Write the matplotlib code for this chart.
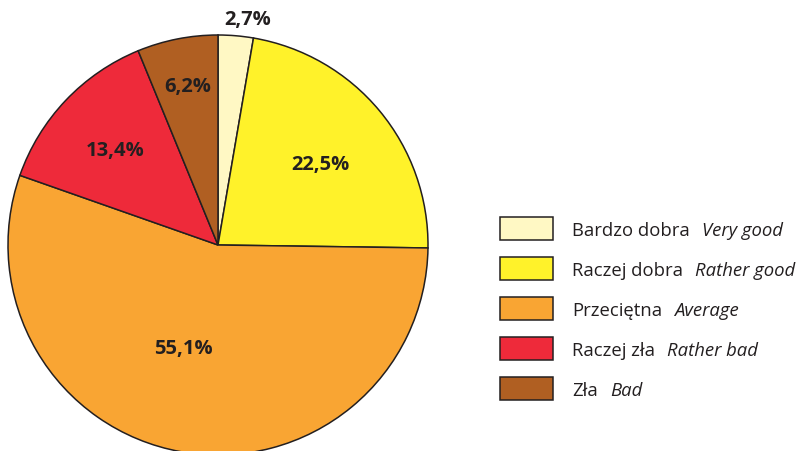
import matplotlib
matplotlib.use("Agg")
import matplotlib.pyplot as plt
from matplotlib.patches import Rectangle
import numpy as np

values = [2.7, 22.5, 55.1, 13.4, 6.2]
pct_labels = ["2,7%", "22,5%", "55,1%", "13,4%", "6,2%"]
names_pl = ["Bardzo dobra", "Raczej dobra", "Przeciętna", "Raczej zła", "Zła"]
names_en = ["Very good", "Rather good", "Average", "Rather bad", "Bad"]
colors = ["#FFF8C4", "#FFF22A", "#F9A533", "#EE2A3A", "#B05F22"]

# label placement style (radius fraction, angular nudge in degrees)
label_r = [1.086, 0.62, 0.517, 0.666, 0.772]
label_dang = [-2.7, -1.4, -8.4, 1.0, -0.3]

W, H = 809, 452
fig = plt.figure(figsize=(W / 100, H / 100), dpi=100)
plt.rcParams['font.family'] = ['Open Sans', 'DejaVu Sans']
text_color = "#231F20"

cx, cy, R = 218, 246, 210
ax = fig.add_axes([(cx - R) / W, (H - cy - R) / H, 2 * R / W, 2 * R / H])
wedges, _ = ax.pie(values, colors=colors, startangle=90, counterclock=False,
                   radius=1, wedgeprops=dict(edgecolor=text_color, linewidth=1.1))
ax.set_xlim(-1, 1)
ax.set_ylim(-1, 1)
ax.set_aspect('auto')
ax.axis('off')
for w in wedges:
    w.set_clip_on(False)

for w, lab, r, da in zip(wedges, pct_labels, label_r, label_dang):
    ang = np.deg2rad((w.theta1 + w.theta2) / 2 + da)
    ax.text(r * np.cos(ang), r * np.sin(ang), lab, ha='center', va='center',
            fontsize=14.5, fontweight='bold', color=text_color, clip_on=False)

# legend
fig.canvas.draw()
renderer = fig.canvas.get_renderer()
box_x, box_w, box_h = 500, 53, 23
top0, step = 218, 40
text_x = 572
for i, (pl, en, c) in enumerate(zip(names_pl, names_en, colors)):
    top = top0 + i * step
    fig.patches.append(Rectangle((box_x / W, (H - top - box_h) / H), box_w / W, box_h / H,
                                 transform=fig.transFigure, facecolor=c,
                                 edgecolor=text_color, linewidth=1.1))
    yc = (H - top - box_h / 2) / H
    t = fig.text(text_x / W, yc, pl, ha='left', va='center_baseline', fontsize=13.3,
                 color=text_color)
    bb = t.get_window_extent(renderer)
    fig.text((bb.x1 + 12) / W, yc, en, ha='left', va='center_baseline', fontsize=13.3,
             style='italic', color=text_color)

fig.savefig("out.png", dpi=100)
